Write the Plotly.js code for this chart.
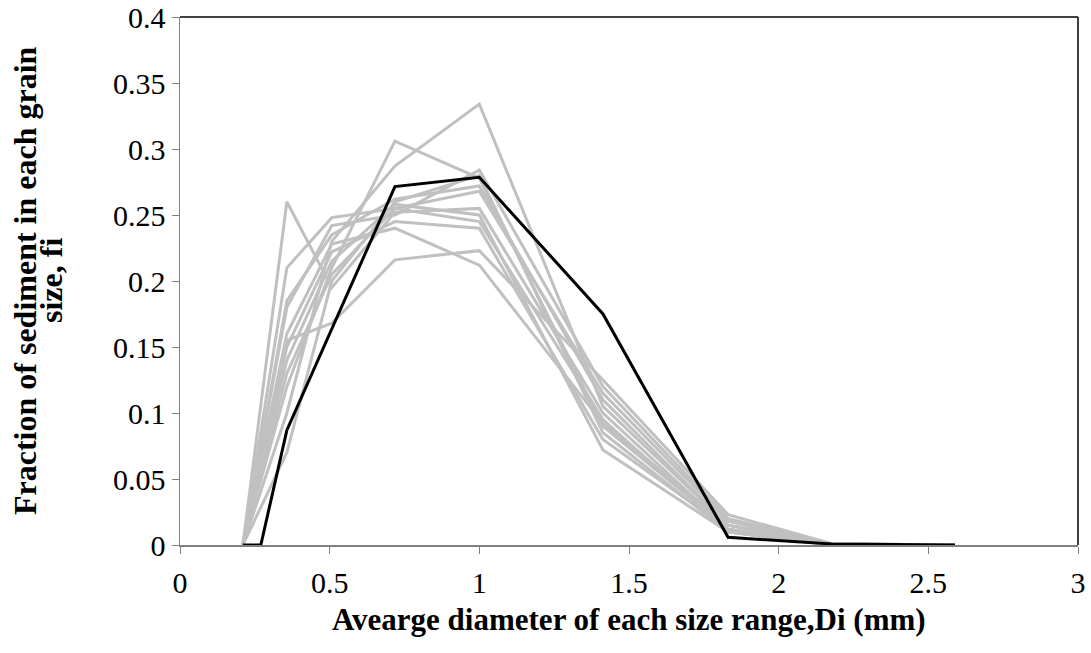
<!DOCTYPE html>
<html>
<head>
<meta charset="utf-8" />
<script src="https://cdn.plot.ly/plotly-3.0.1.min.js"></script>
<style>
  html, body { margin: 0; padding: 0; background: white; }
  #chart { width: 1091px; height: 653px; }
</style>
</head>
<body>
<div id="chart"></div>
<script>
  // Durchmesser der Kornklassen (mm)
  const diameters = [0.21, 0.357, 0.507, 0.718, 1.0, 1.413, 1.831, 2.177, 2.589];

  // einzelne Proben (grau)
  const sample1 = [0, 0.26, 0.195, 0.252, 0.255, 0.1, 0.012, 0, 0];
  const sample2 = [0, 0.21, 0.248, 0.255, 0.245, 0.095, 0.01, 0, 0];
  const sample3 = [0, 0.185, 0.235, 0.262, 0.272, 0.11, 0.015, 0.001, 0];
  const sample4 = [0, 0.18, 0.242, 0.25, 0.284, 0.12, 0.02, 0.001, 0];
  const sample5 = [0, 0.155, 0.168, 0.216, 0.223, 0.125, 0.023, 0.001, 0];
  const sample6 = [0, 0.12, 0.21, 0.306, 0.278, 0.09, 0.012, 0, 0];
  const sample7 = [0, 0.1, 0.23, 0.287, 0.334, 0.105, 0.015, 0, 0];
  const sample8 = [0, 0.07, 0.2, 0.26, 0.28, 0.085, 0.01, 0, 0];
  const sample9 = [0, 0.15, 0.222, 0.245, 0.24, 0.08, 0.012, 0, 0];
  const sample10 = [0, 0.14, 0.215, 0.258, 0.25, 0.072, 0.01, 0, 0];
  const sample11 = [0, 0.16, 0.228, 0.24, 0.212, 0.092, 0.015, 0, 0];
  const sample12 = [0, 0.13, 0.205, 0.255, 0.268, 0.115, 0.018, 0, 0];
  const samples = [sample1, sample2, sample3, sample4, sample5, sample6,
                   sample7, sample8, sample9, sample10, sample11, sample12];

  // Mittelwert-Kurve (schwarz)
  const meanDiameters = [0.21, 0.27, 0.357, 0.507, 0.718, 1.0, 1.413, 1.831, 2.177, 2.589];
  const meanFraction = [0, 0, 0.087, 0.164, 0.2715, 0.2786, 0.175, 0.0058, 0.0008, 0];

  const xTicks = [0, 0.5, 1, 1.5, 2, 2.5, 3];
  const xTickText = ["0", "0.5", "1", "1.5", "2", "2.5", "3"];
  const yTicks = [0, 0.05, 0.1, 0.15, 0.2, 0.25, 0.3, 0.35, 0.4];
  const yTickText = ["0", "0.05", "0.1", "0.15", "0.2", "0.25", "0.3", "0.35", "0.4"];

  const xTitle = "Avearge diameter of each size range,Di (mm)";
  const yTitle1 = "Fraction of sediment in each grain";
  const yTitle2 = "size, fi";

  const traces = samples.map((s) => ({
    x: diameters,
    y: s,
    mode: "lines",
    type: "scatter",
    line: { color: "#c0c0c0", width: 3 },
    hoverinfo: "none",
    showlegend: false,
  }));

  traces.push({
    x: meanDiameters,
    y: meanFraction,
    mode: "lines",
    type: "scatter",
    line: { color: "black", width: 3 },
    hoverinfo: "none",
    showlegend: false,
  });

  const serif = "Liberation Serif, Times New Roman, serif";
  const tickFont = { family: serif, size: 30, color: "black" };
  const xTitleFont = { family: serif, size: 31, color: "black" };
  const yTitleFont = { family: serif, size: 32, color: "black" };

  const axisStyle = {
    showgrid: false,
    zeroline: false,
    showline: true,
    linecolor: "#808080",
    linewidth: 1.5,
    ticks: "outside",
    ticklen: 7,
    tickcolor: "#808080",
    tickfont: tickFont,
    ticklabeloverflow: "allow",
  };

  const layout = {
    width: 1091,
    height: 653,
    margin: { l: 180, r: 13, t: 17, b: 108 },
    plot_bgcolor: "white",
    paper_bgcolor: "white",
    showlegend: false,
    xaxis: Object.assign({ range: [0, 3], tickvals: xTicks, ticktext: xTickText,
                           ticklabelstandoff: 3 }, axisStyle),
    yaxis: Object.assign({ range: [0, 0.4], tickvals: yTicks, ticktext: yTickText,
                           ticklabelstandoff: 0 }, axisStyle),
    shapes: [
      { type: "line", xref: "paper", yref: "paper", x0: 0, x1: 1, y0: 1, y1: 1,
        line: { color: "black", width: 1.5 } },
      { type: "line", xref: "paper", yref: "paper", x0: 1, x1: 1, y0: 0, y1: 1,
        line: { color: "black", width: 1.5 } },
    ],
    annotations: [
      { text: "<b>" + xTitle + "</b>", xref: "paper", yref: "paper", x: 0.5, y: 0,
        xanchor: "center", yanchor: "middle", yshift: -74, showarrow: false,
        font: xTitleFont },
      { text: "<b>" + yTitle1 + "</b>", xref: "paper", yref: "paper", x: 0, y: 0.5,
        xanchor: "center", yanchor: "middle", xshift: -155, textangle: -90,
        showarrow: false, font: yTitleFont },
      { text: "<b>" + yTitle2 + "</b>", xref: "paper", yref: "paper", x: 0, y: 0.5,
        xanchor: "center", yanchor: "middle", xshift: -129, textangle: -90,
        showarrow: false, font: yTitleFont },
    ],
  };

  Plotly.newPlot("chart", traces, layout, { displayModeBar: false, staticPlot: true });
</script>
</body>
</html>
